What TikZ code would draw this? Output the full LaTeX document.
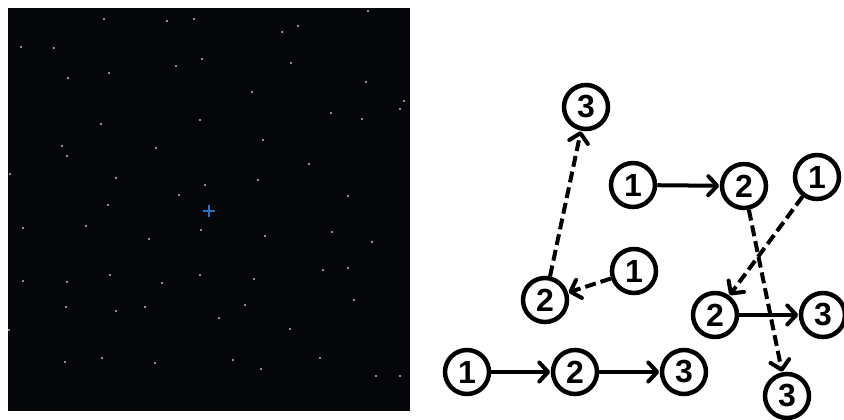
\documentclass[tikz,border=0pt]{standalone}
\usepackage{fontspec}
\setmainfont{Liberation Sans}
\usetikzlibrary{arrows.meta}
\definecolor{skybg}{RGB}{5,6,10}
\definecolor{stargray}{RGB}{190,190,195}
\definecolor{crossblue}{RGB}{35,115,200}
\tikzset{
  num/.style={circle, draw=black, line width=4.5pt, minimum size=44pt, inner sep=0pt,
    font=\fontsize{32}{32}\selectfont\bfseries},
  edgebase/.style={line width=4pt, -{Straight Barb[length=9pt,width=19pt,line cap=round,line join=round]}, shorten >=0.5pt},
  solidarrow/.style={edgebase},
  dasharrow/.style={edgebase, dash pattern=on 11pt off 5pt},
  star/.style={fill=stargray, draw=none},
}
\begin{document}
\begin{tikzpicture}[x=1pt,y=-1pt]
\useasboundingbox (0,0) rectangle (844,420);
% starfield panel
\fill[skybg] (8,8) rectangle (410,411);
\foreach \sx/\sy in {368/11,104/19,167/21,194/19,298/26,282/32,21/47,54/48,202/59,176/66,291/63,68/78,109/73,366/82,252/92,404/101,400/109,331/113,362/119,200/120,101/124,263/140,62/146,156/148,67/156,309/164,10/174,116/178,258/180,205/185,179/195,348/196,108/205,23/228,86/226,201/230,149/239,265/236,332/232,372/242,323/270,348/268,110/275,200/275,254/279,23/281,67/282,162/283,354/300,66/307,145/307,245/305,116/311,219/318,9/330,290/329,102/358,65/362,155/363,233/360,320/358,261/369,376/376,400/376}
  \fill[star] (\sx,\sy) circle (1.2);
\coordinate (crossc) at (209,211);
\draw[crossblue, line width=2.2pt] ([xshift=-6pt]crossc) -- ([xshift=6pt]crossc);
\draw[crossblue, line width=2.2pt] ([yshift=-6pt]crossc) -- ([yshift=6pt]crossc);
% nodes
\node[num] (a1) at (467,372) {1};
\node[num] (a2) at (575,372) {2};
\node[num] (a3) at (684,372) {3};
\node[num] (b3) at (586,107) {3};
\node[num] (b2) at (545,300) {2};
\node[num] (b1) at (634,271) {1};
\node[num] (c1) at (633,185) {1};
\node[num] (c2) at (744,186) {2};
\node[num] (c3) at (787,396) {3};
\node[num] (d1) at (817,177) {1};
\node[num] (d2) at (715,315) {2};
\node[num] (d3) at (823,315) {3};
% edges
\draw[solidarrow] (a1) -- (a2);
\draw[solidarrow] (a2) -- (a3);
\draw[dasharrow] (b2) -- (b3);
\draw[dasharrow] (b1) -- (b2);
\draw[solidarrow] (c1) -- (c2);
\draw[dasharrow] (c2) -- (c3);
\draw[dasharrow] (d1) -- (d2);
\draw[solidarrow] (d2) -- (d3);
\end{tikzpicture}
\end{document}
